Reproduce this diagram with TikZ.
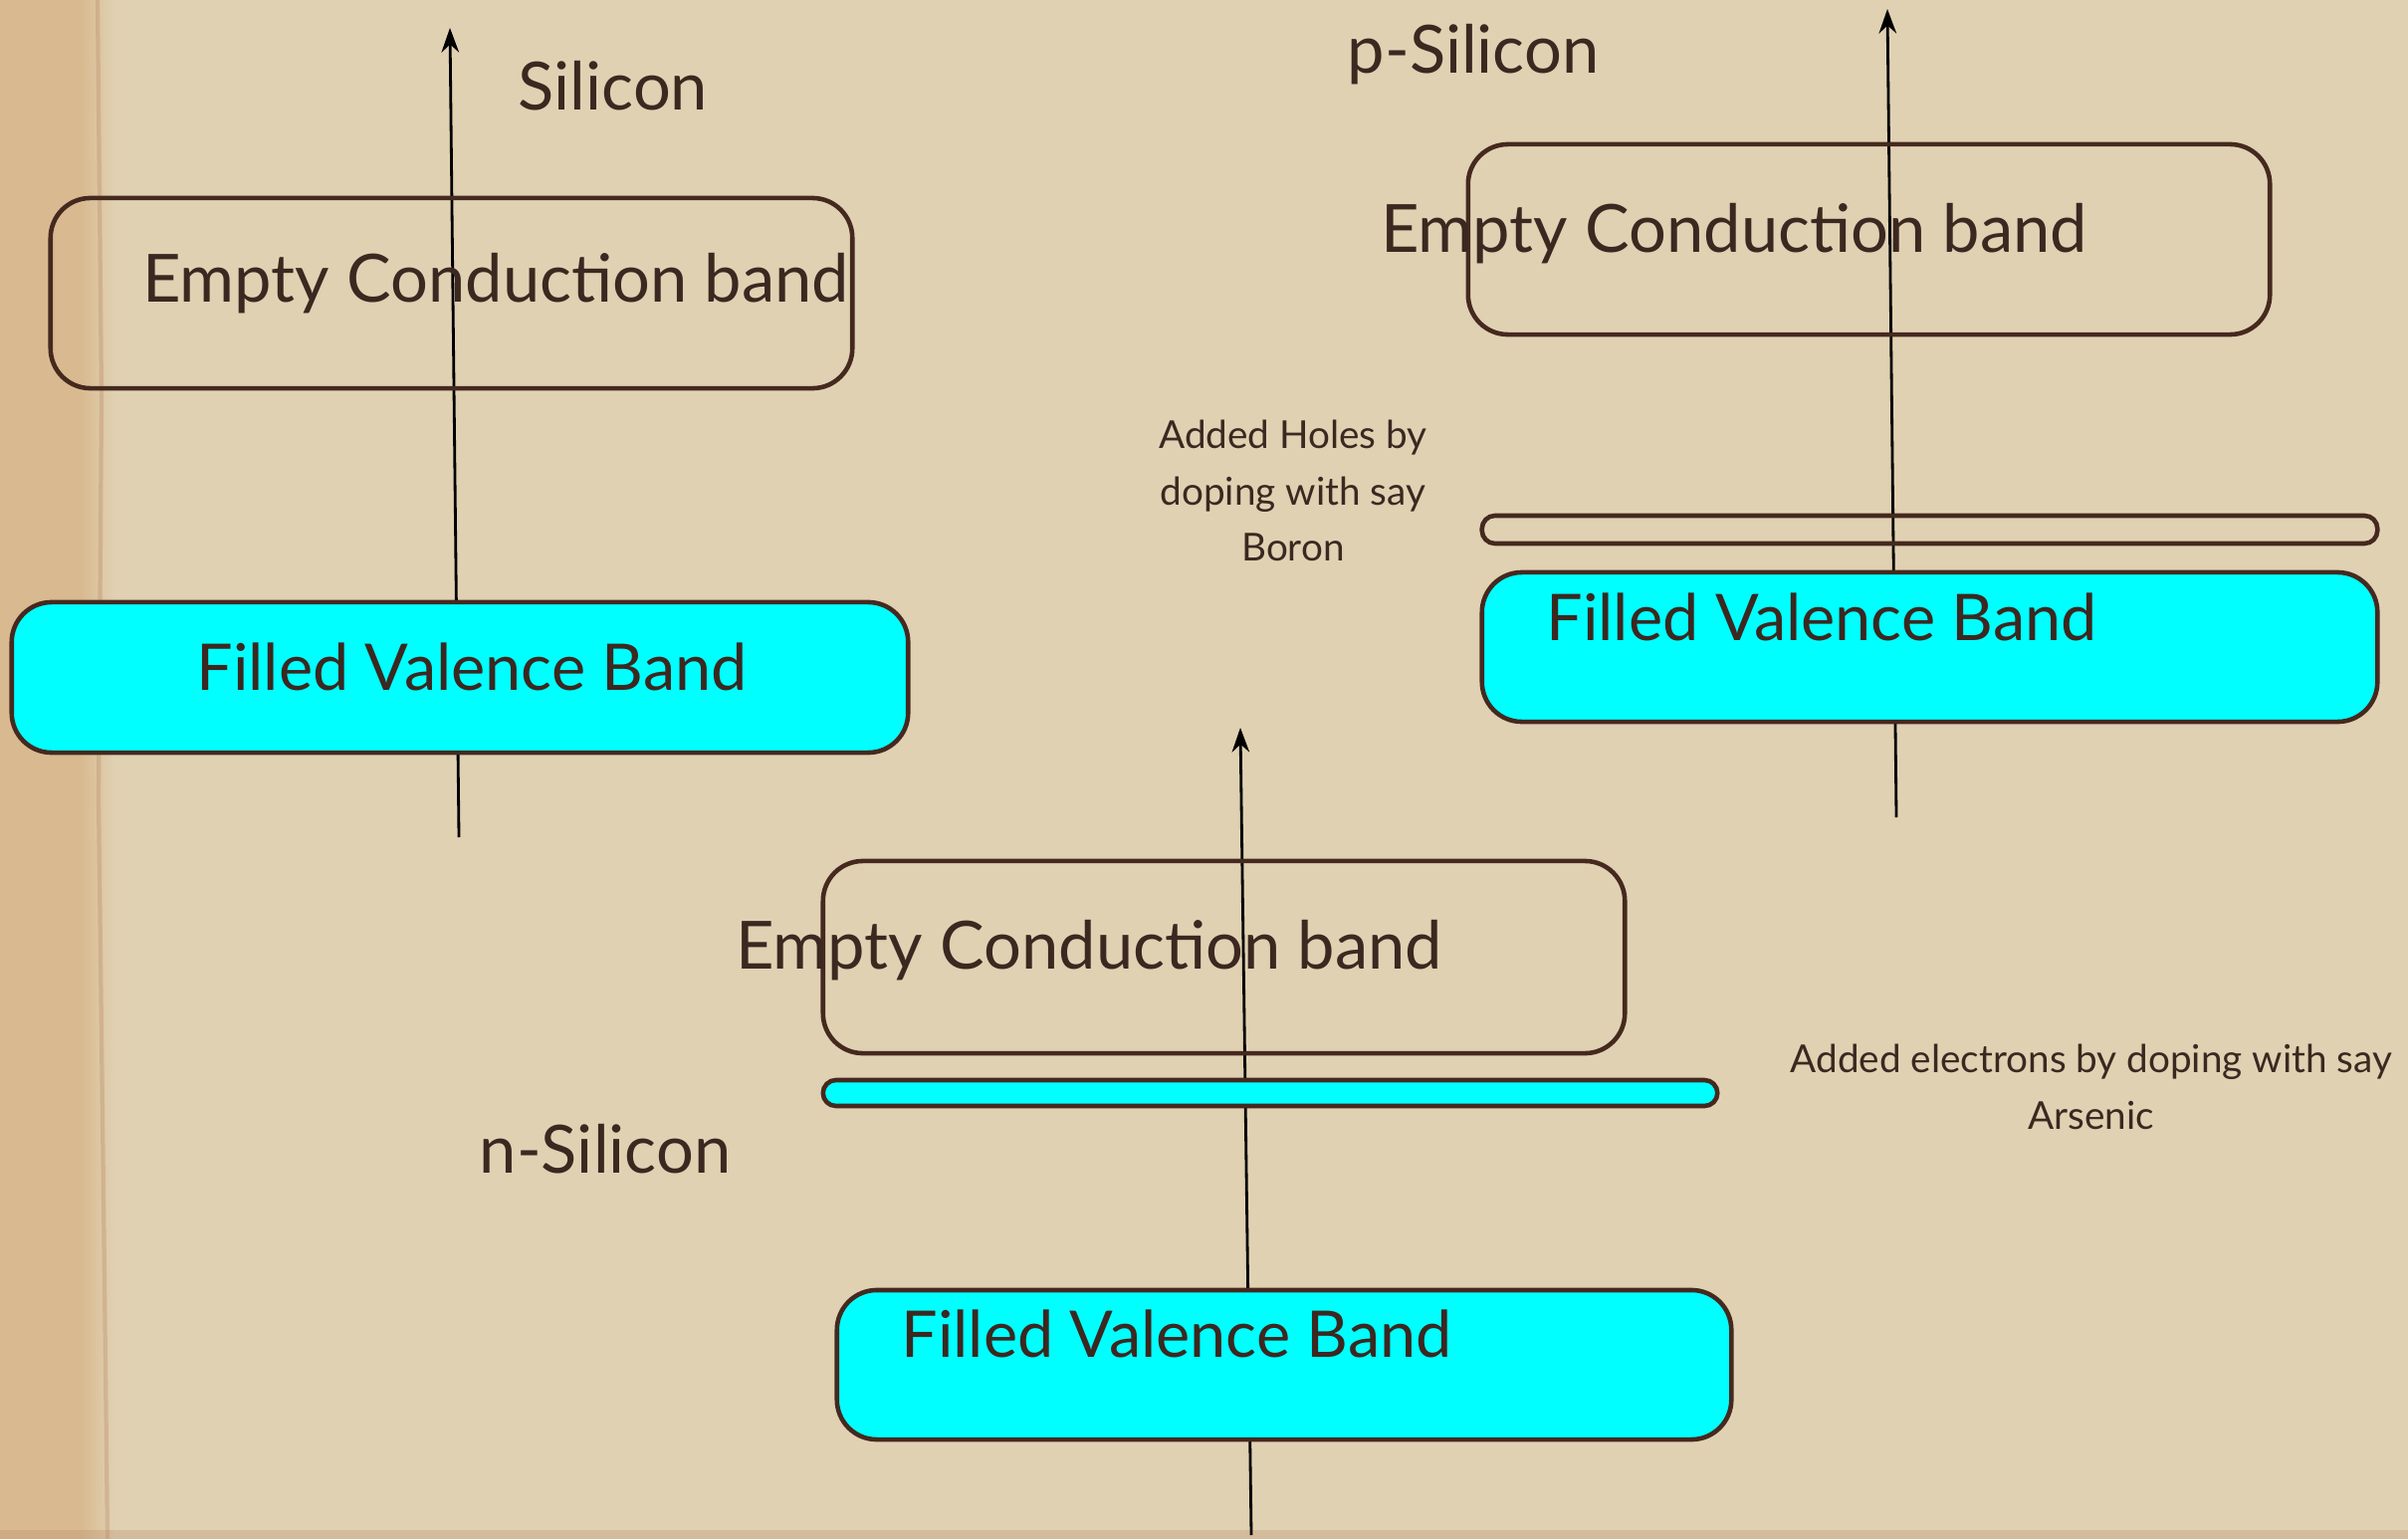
\documentclass[tikz,border=0pt]{standalone}
\usepackage{fontspec}
\setmainfont{Lato}
\usetikzlibrary{arrows.meta}
\definecolor{paper}{HTML}{E0D1B3}
\definecolor{paperedge}{HTML}{D9B98F}
\definecolor{edgeline}{HTML}{B98A66}
\definecolor{ink}{HTML}{3B2820}
\definecolor{boxline}{HTML}{45291F}
\definecolor{bandcyan}{HTML}{00FFFF}
\tikzset{
  axis/.style={black, line width=0.8pt, -{Stealth[length=7pt,width=5pt]}},
  condbox/.style={draw=boxline, line width=1.3pt, rounded corners=0.4cm, rectangle, inner sep=0pt},
  valbox/.style={draw=boxline, fill=bandcyan, line width=1.3pt, rounded corners=0.4cm, rectangle, inner sep=0pt},
  thinband/.style={draw=boxline, line width=1.3pt, rounded corners=0.13cm, rectangle, inner sep=0pt},
  bigtext/.style={text=ink, font=\fontsize{19}{22}\selectfont, inner sep=0pt},
  valtext/.style={text=ink, font=\fontsize{18.4}{22}\selectfont, inner sep=0pt},
  smalltext/.style={text=ink, font=\fontsize{11}{16}\selectfont, align=center, inner sep=0pt},
}
\begin{document}
\begin{tikzpicture}[x=0.01cm, y=-0.01cm]
\useasboundingbox (0,0) rectangle (2419,1546);
% paper background
\fill[paper] (0,0) rectangle (2419,1546);
\fill[paperedge] (0,0) rectangle (80,1546);
\shade[left color=paperedge, right color=paper] (80,0) rectangle (115,1546);
\draw[edgeline, line width=1.2pt, opacity=0.35] (98,0) -- (102,400) -- (99,800) -- (104,1200) -- (108,1546);
\fill[edgeline, opacity=0.3] (0,1537) rectangle (2419,1546);

% axes (drawn first, so filled bands cover them)
\coordinate (a1s) at (461,841);
\coordinate (a1e) at (452,28);
\coordinate (a2s) at (1905,821);
\coordinate (a2e) at (1896,9);
\coordinate (a3s) at (1257,1542);
\coordinate (a3e) at (1246,731);
\draw[axis] (a1s) -- (a1e);
\draw[axis] (a2s) -- (a2e);
\draw[axis] (a3s) -- (a3e);

% ---- Silicon
\node[condbox, minimum width=8.05cm, minimum height=1.91cm] (c1) at (453.5,294.5) {};
\node[valbox, minimum width=9.0cm, minimum height=1.51cm] (v1) at (462,680.5) {};
\node[bigtext] (t1) at (498,285) {Empty Conduction band};
\node[valtext] (t2) at (474,670) {Filled Valence Band};
\node[bigtext] (l1) at (616,86) {Silicon};

% ---- p-Silicon
\node[condbox, minimum width=8.05cm, minimum height=1.91cm] (c2) at (1877.5,240.5) {};
\node[thinband, minimum width=8.99cm, minimum height=0.28cm] (h2) at (1938.5,532) {};
\node[valbox, minimum width=8.99cm, minimum height=1.50cm] (v2) at (1938.5,650) {};
\node[bigtext] (t3) at (1742,235) {Empty Conduction band};
\node[valtext] (t4) at (1830,620) {Filled Valence Band};
\node[bigtext] (l2) at (1480,55) {p-Silicon};
\node[smalltext] (n2) at (1299,493) {Added Holes by\\doping with say\\Boron};

% ---- n-Silicon
\node[condbox, minimum width=8.05cm, minimum height=1.93cm] (c3) at (1229.5,961.5) {};
\node[thinband, fill=bandcyan, minimum width=8.98cm, minimum height=0.26cm] (e3) at (1276,1098) {};
\node[valbox, minimum width=8.98cm, minimum height=1.50cm] (v3) at (1290,1371) {};
\node[bigtext] (t5) at (1094,955) {Empty Conduction band};
\node[valtext] (t6) at (1182,1340) {Filled Valence Band};
\node[bigtext] (l3) at (608,1154) {n-Silicon};
\node[smalltext] (n3) at (2101,1092) {Added electrons by doping with say\\Arsenic};
\end{tikzpicture}
\end{document}
